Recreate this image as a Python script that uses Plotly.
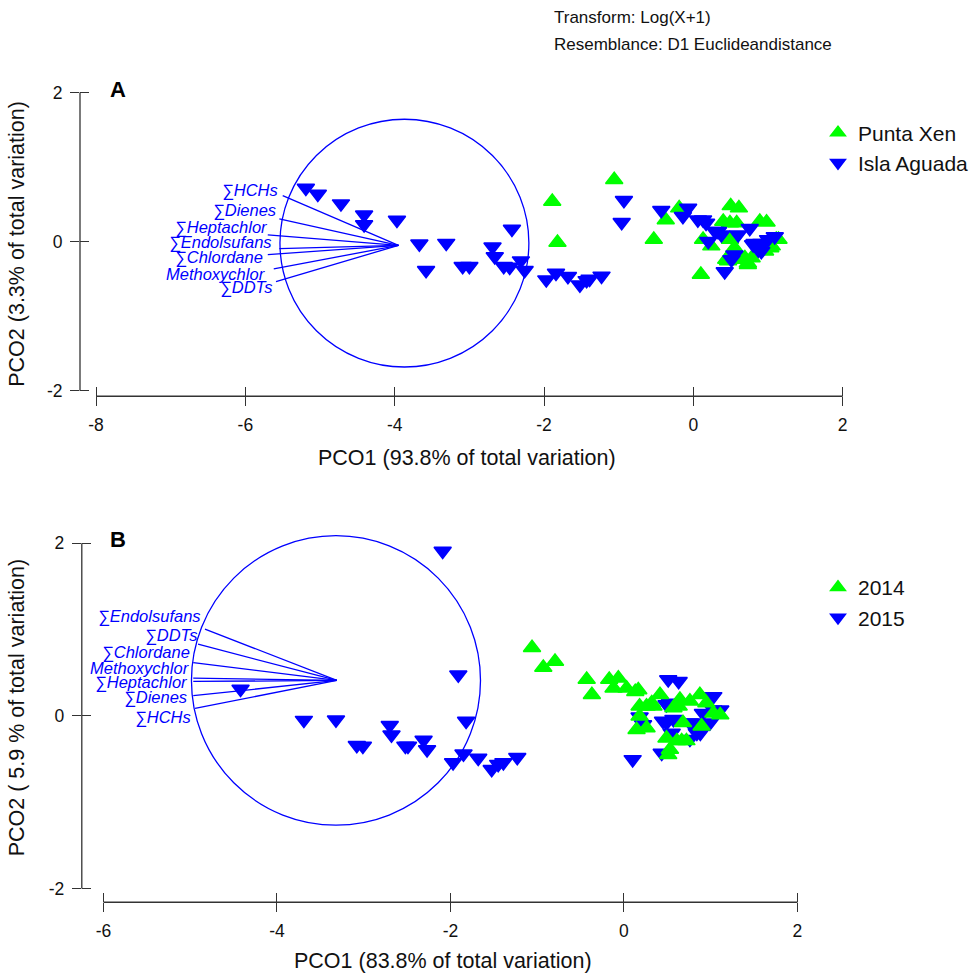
import plotly.graph_objects as go

# ---------------- Panel A data ----------------
a_xen_x = [-1.06, -1.89, -1.82, -0.53, -0.37, -0.19, 0.10, 0.50, 0.61, 0.40, 0.49, 0.58, 0.89, 0.98, 0.49,
           0.24, 0.13, 0.73, 0.78, 0.64, 0.44, 1.05, 1.11, 0.96, 0.55, 0.69, 0.73, 0.465, 1.03, 1.14]
a_xen_y = [0.83, 0.54, -0.01, 0.03, 0.29, 0.45, -0.44, 0.48, 0.45, 0.27, 0.25, 0.25, 0.27, 0.26, 0.03,
           -0.06, 0.03, -0.29, -0.22, -0.24, -0.24, -0.06, 0.03, -0.13, -0.085, -0.22, -0.31, -0.26, -0.085, 0.03]
a_agu_x = [-5.19, -5.03, -4.72, -4.41, -4.41, -3.97, -3.67, -3.31, -3.58, -2.43, -2.69, -2.66, -3.09, -3.00, -2.54,
           -2.46, -2.31, -2.26, -1.97, -1.84, -1.68, -1.52, -1.43, -1.39, -1.23, -0.93, -0.96, -0.43, -0.14, -0.07,
           0.06, 0.17, 0.20, 0.29, 0.375, 0.42, 0.55, 0.60, 0.755, 0.82, 0.87, 1.00, 1.09, 0.91, 0.51,
           0.13, 0.33, 0.80, 0.91]
a_agu_y = [0.72, 0.64, 0.51, 0.36, 0.23, 0.29, -0.03, -0.02, -0.385, 0.17, -0.07, -0.20, -0.33, -0.33, -0.33,
           -0.34, -0.255, -0.385, -0.51, -0.42, -0.465, -0.58, -0.52, -0.50, -0.46, 0.555, 0.26, 0.42, 0.34, 0.45,
           0.295, 0.25, 0.005, 0.14, 0.094, -0.40, -0.175, 0.094, 0.18, -0.02, -0.11, 0.03, 0.07, -0.02, -0.24,
           0.295, 0.14, -0.04, -0.13]

a_vec_names = ["∑HCHs", "∑Dienes", "∑Heptachlor", "∑Endolsufans", "∑Chlordane", "Methoxychlor", "∑DDTs"]
a_vec_origin = (-3.95, -0.05)
a_vec_x = [-5.50, -5.545, -5.70, -5.545, -5.70, -5.62, -5.59]
a_vec_y = [0.617, 0.305, 0.09, -0.094, -0.174, -0.366, -0.537]
a_lab_x = [-5.536, -5.567, -5.666, -5.613, -5.737, -5.693, -5.613]
a_lab_y = [0.689, 0.42, 0.184, -0.017, -0.219, -0.434, -0.621]
a_circle_center = (-3.87, -0.02)
a_circle_r = (1.667, 1.662)

# ---------------- Panel B data ----------------
b_2014_x = [-1.06, -0.93, -0.795, -0.43, -0.37, -0.17, -0.065, -0.12, 0.03, 0.13, 0.18, 0.26, 0.34, 0.18, 0.145,
            0.415, 0.645, 0.76, 0.875, 0.57, 0.68, 0.49, 0.61, 0.72, 0.51, 0.895, 0.95, 1.11, 0.26, 1.03,
            0.165, 0.32, 0.63, 0.665, 0.53]
b_2014_y = [0.79, 0.56, 0.63, 0.42, 0.245, 0.42, 0.435, 0.32, 0.32, 0.28, 0.11, 0.11, 0.11, -0.005, -0.16,
            0.245, 0.19, 0.17, 0.245, 0.09, -0.08, -0.26, -0.29, -0.29, -0.45, -0.12, 0.15, 0.01, -0.14, 0.03,
            0.30, 0.15, 0.11, -0.29, -0.39]
b_2015_x = [-2.09, -1.91, -4.42, -3.69, -3.32, -2.70, -2.68, -3.08, -3.01, -2.52, -2.49, -2.31, -2.27, -1.82, -1.85,
            -1.97, -1.68, -1.525, -1.45, -1.39, -1.23, 0.10, 0.51, 0.63, 0.435, 0.49, 0.49, 0.57, 0.55, 0.76,
            0.76, 0.91, 1.03, 1.03, 1.11, 0.84, 0.22, 0.18, 0.99, 0.53, 0.99, 1.05, 0.45, 0.78, 0.88]
b_2015_y = [1.91, 0.475, 0.31, -0.05, -0.045, -0.11, -0.22, -0.34, -0.35, -0.35, -0.35, -0.28, -0.39, -0.06, -0.44,
            -0.54, -0.49, -0.62, -0.56, -0.54, -0.48, -0.505, 0.42, 0.40, -0.43, 0.13, -0.08, -0.04, -0.20, -0.08,
            -0.27, 0.03, 0.225, 0.07, 0.07, -0.20, -0.10, -0.01, -0.08, 0.15, 0.225, 0.05, -0.06, -0.08, -0.20]

b_vec_names = ["∑Endolsufans", "∑DDTs", "∑Chlordane", "Methoxychlor", "∑Heptachlor", "∑Dienes", "∑HCHs"]
b_vec_origin = (-3.31, 0.41)
b_vec_x = [-4.83, -4.91, -4.965, -4.965, -4.965, -4.965, -4.945]
b_vec_y = [1.005, 0.83, 0.617, 0.436, 0.398, 0.233, 0.086]
b_lab_x = [-4.85, -4.90, -4.98, -4.98, -5.00, -5.01, -4.97]
b_lab_y = [1.147, 0.936, 0.735, 0.551, 0.39, 0.217, -0.014]
b_circle_center = (-3.32, 0.41)
b_circle_r = (1.666, 1.677)

a_xticks = [-8, -6, -4, -2, 0, 2]
b_xticks = [-6, -4, -2, 0, 2]
yticks = [-2, 0, 2]

GREEN = "#00ff00"
BLUE = "#0000ff"
AXC = "#333333"
FONT = "Arial, Liberation Sans, sans-serif"
W, H = 974, 978

fig = go.Figure()


def markers(x, y, sym, color, name, xa, ya, legend, rank):
    return go.Scatter(x=x, y=y, mode="markers", name=name, xaxis=xa, yaxis=ya, legend=legend,
                      legendrank=rank, cliponaxis=False,
                      marker=dict(symbol=sym, size=15, color=color, line=dict(color=color, width=1.5)))


def vectors(origin, vx, vy, xa, ya):
    xs, ys = [], []
    for ex, ey in zip(vx, vy):
        xs += [origin[0], ex, None]
        ys += [origin[1], ey, None]
    return go.Scatter(x=xs, y=ys, mode="lines", xaxis=xa, yaxis=ya, showlegend=False,
                      line=dict(color=BLUE, width=1.3), hoverinfo="skip")


# Panel A
fig.add_trace(vectors(a_vec_origin, a_vec_x, a_vec_y, "x", "y"))
fig.add_trace(markers(a_xen_x, a_xen_y, "triangle-up", GREEN, "Punta Xen", "x", "y", "legend", 1))
fig.add_trace(markers(a_agu_x, a_agu_y, "triangle-down", BLUE, "Isla Aguada", "x", "y", "legend", 2))
# Panel B
fig.add_trace(vectors(b_vec_origin, b_vec_x, b_vec_y, "x2", "y2"))
fig.add_trace(markers(b_2015_x, b_2015_y, "triangle-down", BLUE, "2015", "x2", "y2", "legend2", 2))
fig.add_trace(markers(b_2014_x, b_2014_y, "triangle-up", GREEN, "2014", "x2", "y2", "legend2", 1))
# invisible traces for overlay (inside-tick) axes
fig.add_trace(go.Scatter(x=[None], y=[None], xaxis="x3", yaxis="y3", showlegend=False))
fig.add_trace(go.Scatter(x=[None], y=[None], xaxis="x4", yaxis="y4", showlegend=False))

# geometry (pixels) -> domains
a_xr = [-8.215, 2.3]
a_yr = [-2.075, 2.3]
b_xr = [-6.25, 2.3]
b_yr = [-2.16, 2.25]
a_xd = [80 / W, 865.1 / W]
a_yd = [1 - 398.3 / H, 1 - 70.6 / H]
b_xd = [81.8 / W, 823.5 / W]
b_yd = [1 - 906.9 / H, 1 - 524.3 / H]

tickfont = dict(family=FONT, size=17.5, color="#111111")


def ax(rng, dom, anchor, tv, ticks, labels, overlay=None):
    d = dict(range=rng, domain=dom, anchor=anchor, tickvals=tv, ticktext=[str(v) for v in tv],
             ticks=ticks, ticklen=9, tickwidth=1.3,
             tickcolor=AXC, showline=False, showgrid=False, zeroline=False, showticklabels=labels,
             tickfont=tickfont, ticklabelstandoff=4, fixedrange=True)
    if overlay:
        d["overlaying"] = overlay
    return d


fig.update_layout(
    width=W, height=H, margin=dict(l=0, r=0, t=0, b=0),
    paper_bgcolor="white", plot_bgcolor="rgba(0,0,0,0)",
    font=dict(family=FONT, size=17, color="#111111"),
    xaxis=ax(a_xr, a_xd, "y", a_xticks, "outside", True),
    yaxis=ax(a_yr, a_yd, "x", yticks, "outside", True),
    xaxis2=ax(b_xr, b_xd, "y2", b_xticks, "outside", True),
    yaxis2=ax(b_yr, b_yd, "x2", yticks, "outside", True),
    xaxis3=ax(a_xr, a_xd, "y", a_xticks, "inside", False, "x"),
    yaxis3=ax(a_yr, a_yd, "x", yticks, "inside", False, "y"),
    xaxis4=ax(b_xr, b_xd, "y2", b_xticks, "inside", False, "x2"),
    yaxis4=ax(b_yr, b_yd, "x2", yticks, "inside", False, "y2"),
    legend=dict(x=818 / W, y=1 - 113 / H, xanchor="left", yanchor="top", font=dict(size=21, family=FONT),
                itemsizing="constant", bgcolor="rgba(0,0,0,0)", tracegroupgap=0),
    legend2=dict(x=818 / W, y=1 - 570 / H, xanchor="left", yanchor="top", font=dict(size=21, family=FONT),
                 itemsizing="constant", bgcolor="rgba(0,0,0,0)", tracegroupgap=0),
)

shapes = []
# axis lines
for xa, ya, xt in [("x", "y", a_xticks), ("x2", "y2", b_xticks)]:
    shapes.append(dict(type="line", xref=xa, yref=ya + " domain", x0=xt[0], x1=xt[-1], y0=0, y1=0,
                       line=dict(color=AXC, width=1.3)))
    shapes.append(dict(type="line", xref=xa + " domain", yref=ya, x0=0, x1=0, y0=yticks[0], y1=yticks[-1],
                       line=dict(color=AXC, width=1.3)))
# circles
for (cx, cy), (rx, ry), xa, ya in [(a_circle_center, a_circle_r, "x", "y"), (b_circle_center, b_circle_r, "x2", "y2")]:
    shapes.append(dict(type="circle", xref=xa, yref=ya, x0=cx - rx, x1=cx + rx, y0=cy - ry, y1=cy + ry,
                       line=dict(color=BLUE, width=1.3)))
fig.update_layout(shapes=shapes)

ann = []
for names, lx, ly, xa, ya in [(a_vec_names, a_lab_x, a_lab_y, "x", "y"), (b_vec_names, b_lab_x, b_lab_y, "x2", "y2")]:
    for n, x, y in zip(names, lx, ly):
        ann.append(dict(x=x, y=y, xref=xa, yref=ya, text="<i>" + n + "</i>", showarrow=False,
                        xanchor="right", yanchor="middle", font=dict(color=BLUE, size=16.5, family=FONT)))

title_font = dict(family=FONT, size=21.5, color="#111111")
ann += [
    dict(x=466.5 / W, y=1 - 460 / H, xref="paper", yref="paper", text="PCO1 (93.8% of total variation)",
         showarrow=False, xanchor="center", yanchor="middle", font=title_font),
    dict(x=443 / W, y=1 - 966 / H, xref="paper", yref="paper", text="PCO1 (83.8% of total variation)",
         showarrow=False, xanchor="center", yanchor="middle", font=title_font),
    dict(x=17 / W, y=1 - 245 / H, xref="paper", yref="paper", text="PCO2 (3.3% of total variation)",
         showarrow=False, xanchor="center", yanchor="middle", textangle=-90, font=title_font),
    dict(x=17 / W, y=1 - 711 / H, xref="paper", yref="paper", text="PCO2 ( 5.9 % of total variation)",
         showarrow=False, xanchor="center", yanchor="middle", textangle=-90, font=title_font),
    dict(x=118 / W, y=1 - 90 / H, xref="paper", yref="paper", text="<b>A</b>", showarrow=False,
         xanchor="center", yanchor="middle", font=dict(family=FONT, size=22, color="#000000")),
    dict(x=118 / W, y=1 - 542 / H, xref="paper", yref="paper", text="<b>B</b>", showarrow=False,
         xanchor="center", yanchor="middle", font=dict(family=FONT, size=22, color="#000000")),
    dict(x=552 / W, y=1 - 18 / H, xref="paper", yref="paper", text="Transform: Log(X+1)", showarrow=False,
         xanchor="left", yanchor="middle", font=dict(family=FONT, size=17, color="#111111")),
    dict(x=552 / W, y=1 - 45 / H, xref="paper", yref="paper", text="Resemblance: D1 Euclideandistance",
         showarrow=False, xanchor="left", yanchor="middle", font=dict(family=FONT, size=17, color="#111111")),
]
fig.update_layout(annotations=ann)

fig.write_html("out.html", config={"displayModeBar": False},
               post_script="document.body.style.margin='0';document.body.style.overflow='hidden';")
